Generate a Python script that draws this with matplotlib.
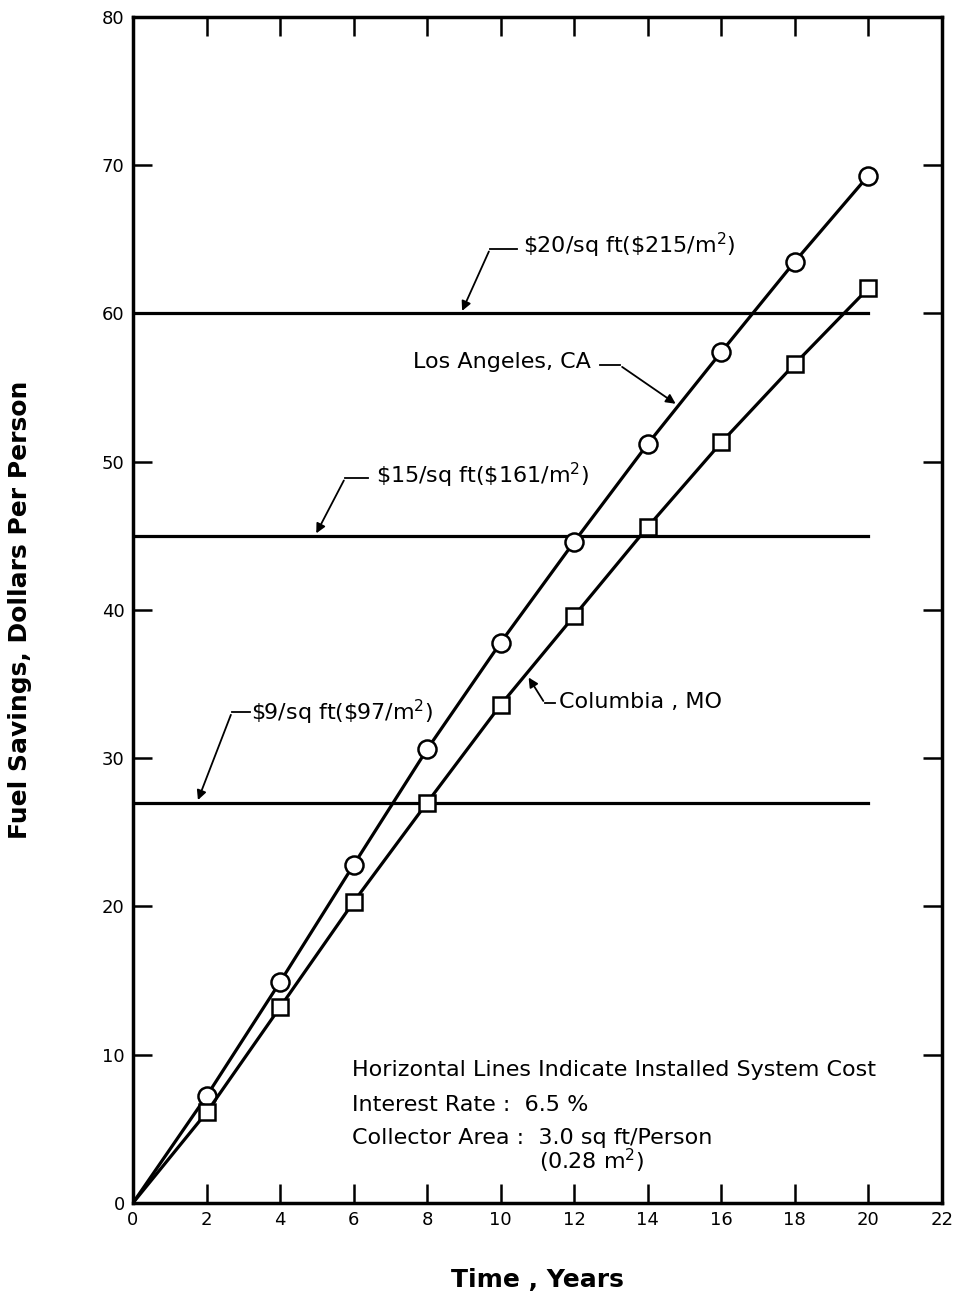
import numpy as np
import matplotlib.pyplot as plt

# data
years = [0, 2, 4, 6, 8, 10, 12, 14, 16, 18, 20]
los_angeles = [0, 7.2, 14.9, 22.8, 30.6, 37.8, 44.6, 51.2, 57.4, 63.5, 69.3]
columbia = [0, 6.1, 13.2, 20.3, 27.0, 33.6, 39.6, 45.6, 51.3, 56.6, 61.7]
cost_levels = [60, 45, 27]
cost_labels = [r'\$20/sq ft(\$215/m$^2$)', r'\$15/sq ft(\$161/m$^2$)', r'\$9/sq ft(\$97/m$^2$)']

plt.rcParams['font.family'] = ['DejaVu Sans']
fig = plt.figure(figsize=(9.6, 13.03), dpi=100)
ax = fig.add_axes([0.1385, 0.0768, 0.8427, 0.9102])

lw = 2.3
for c in cost_levels:
    ax.plot([0, 20], [c, c], color='black', lw=lw, zorder=2)

# no marker at the origin
ax.plot(years, los_angeles, color='black', lw=lw, marker='o', ms=13,
        mfc='white', mec='black', mew=1.8, markevery=slice(1, None), zorder=3)
ax.plot(years, columbia, color='black', lw=lw, marker='s', ms=11,
        mfc='white', mec='black', mew=1.8, markevery=slice(1, None), zorder=3)

ax.set_xlim(0, 22)
ax.set_ylim(0, 80)
ax.set_xticks(range(0, 23, 2))
ax.set_yticks(range(0, 81, 10))
ax.tick_params(direction='in', length=14, width=1.8, top=True, right=True,
               labelsize=13, pad=6)
for s in ax.spines.values():
    s.set_linewidth(2.5)

ax.set_xlabel('Time , Years', fontsize=18, fontweight='bold', labelpad=28)
ax.set_ylabel('Fuel Savings, Dollars Per Person', fontsize=18, fontweight='bold', labelpad=50)

arrow = dict(arrowstyle='-|>', color='black', lw=1.3, mutation_scale=14)
fs = 16


def leader(text, tip, corner, end, textx, texty, ha='left'):
    ax.plot([corner[0], end], [corner[1], corner[1]], color='black', lw=1.3)
    ax.annotate('', xy=tip, xytext=corner, arrowprops=arrow)
    ax.text(textx, texty, text, fontsize=fs, ha=ha, va='center')


leader(cost_labels[0], (8.92, 60), (9.71, 64.35), 10.44, 10.62, 64.6)
leader(cost_labels[1], (4.95, 45), (5.77, 48.9), 6.39, 6.62, 49.1)
leader(cost_labels[2], (1.74, 27), (2.69, 33.1), 3.18, 3.22, 33.1)
leader('Los Angeles, CA', (14.82, 53.8), (13.24, 56.5), 12.7, 12.45, 56.7, ha='right')
leader('Columbia , MO', (10.72, 35.6), (11.2, 33.7), 11.48, 11.58, 33.8)

ax.text(5.95, 9.0, 'Horizontal Lines Indicate Installed System Cost', fontsize=fs, va='center')
ax.text(5.95, 6.6, 'Interest Rate :  6.5 %', fontsize=fs, va='center')
ax.text(5.95, 4.4, 'Collector Area :  3.0 sq ft/Person', fontsize=fs, va='center')
ax.text(11.05, 2.85, '(0.28 m$^2$)', fontsize=fs, va='center')

fig.savefig('out.png', dpi=100, facecolor='white')
